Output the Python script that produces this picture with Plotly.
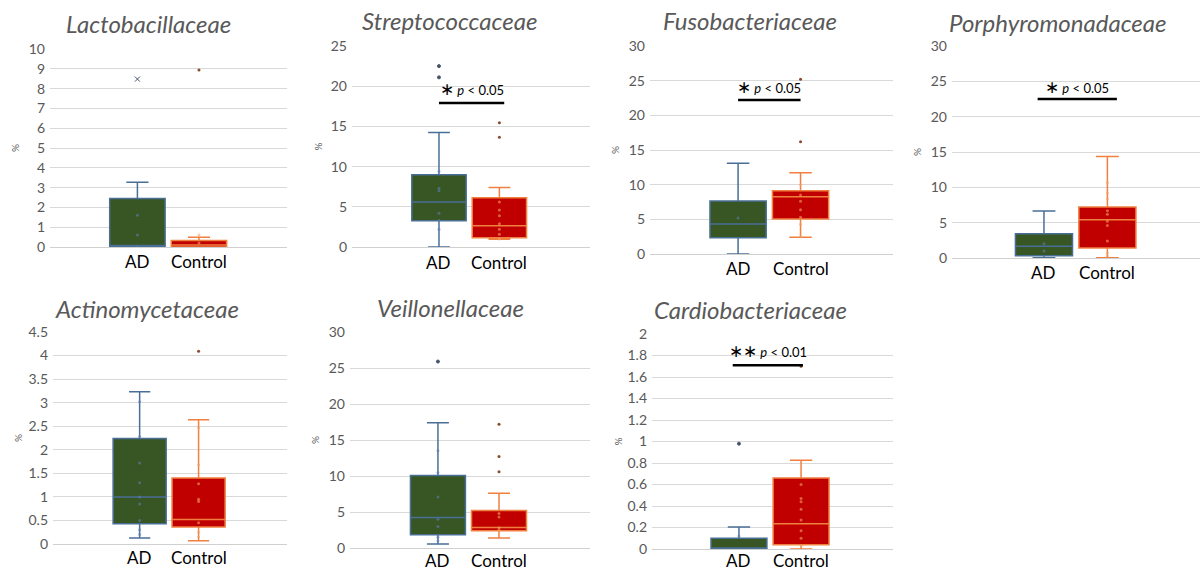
import plotly.graph_objects as go

# ---------------- data ----------------
families = ["Lactobacillaceae", "Streptococcaceae", "Fusobacteriaceae", "Porphyromonadaceae",
            "Actinomycetaceae", "Veillonellaceae", "Cardiobacteriaceae"]
groups = ["AD", "Control"]

ad_lo  = [0.0, 0.0, 0.0, 0.05, 0.13, 0.55, 0.0]
ad_q1  = [0.0, 3.27, 2.36, 0.33, 0.43, 1.85, 0.0]
ad_med = [0.08, 5.6, 4.33, 1.65, 1.0, 4.25, 0.01]
ad_q3  = [2.45, 9.0, 7.64, 3.44, 2.24, 10.06, 0.10]
ad_hi  = [3.27, 14.25, 13.1, 6.64, 3.23, 17.4, 0.205]

ct_lo  = [0.0, 0.95, 2.4, 0.05, 0.07, 1.38, 0.0]
ct_q1  = [0.0, 1.16, 5.05, 1.41, 0.36, 2.4, 0.04]
ct_med = [0.1, 2.65, 8.27, 5.42, 0.52, 2.85, 0.236]
ct_q3  = [0.33, 6.13, 9.13, 7.2, 1.40, 5.2, 0.66]
ct_hi  = [0.49, 7.4, 11.73, 14.37, 2.64, 7.6, 0.825]

ad_out = [[8.48], [22.5, 21.1], [], [], [], [25.9], [0.98]]
ct_out = [[8.94], [15.46, 13.64], [25.2, 16.2], [], [4.09], [17.2, 12.7, 10.6], [1.70]]

ad_in = [[1.6, 0.6, 0.0], [9.4, 7.3, 7.0, 4.2, 3.3, 2.2], [5.2], [2.0, 1.0],
         [3.02, 2.28, 1.72, 1.3, 1.0, 0.85, 0.5, 0.3, 0.2], [13.5, 10.5, 7.1, 4.0, 3.0, 1.5, 1.0], [0.12]]
ct_in = [[0.6, 0.2], [5.6, 4.6, 3.9, 2.9, 2.2, 1.6, 1.0], [10.0, 8.5, 7.6, 6.4, 5.3, 4.3, 2.5],
         [10.7, 9.2, 8.4, 6.7, 6.2, 5.2, 4.6, 2.4, 0.7, 0.3],
         [2.47, 1.68, 1.28, 0.95, 0.9, 0.45, 0.25, 0.15], [4.8, 4.3, 2.8, 2.5],
         [0.6, 0.47, 0.44, 0.37, 0.27, 0.17, 0.1, 0.03]]

y_max   = [10, 25, 30, 30, 4.5, 30, 2]
y_dtick = [1, 5, 5, 5, 0.5, 5, 0.2]

sig_label  = ["", "∗", "∗", "∗", "", "", "∗∗"]
sig_p      = ["", "< 0.05", "< 0.05", "< 0.05", "", "", "< 0.01"]
sig_line_y = [None, 17.9, 22.2, 22.5, None, None, 1.71]
sig_text_y = [None, 19.7, 24.2, 24.3, None, None, 1.85]
sig_x0     = [None, 0.0, 0.0, -0.1, None, None, -0.1]
sig_x1     = [None, 1.08, 1.0, 1.15, None, None, 1.03]

# ---------------- layout geometry (pixels) ----------------
W, H = 1202, 570
boxes_px = [(50, 287, 49, 247), (352, 590, 46, 247), (650, 893, 46, 254), (952, 1200, 46, 258),
            (53, 287, 332, 544), (350, 590, 332, 548), (652, 893, 334, 549)]
x_ranges = [(-1.42, 2.43), (-1.44, 2.50), (-1.41, 2.48), (-1.45, 2.46),
            (-1.47, 2.50), (-1.44, 2.49), (-1.40, 2.48)]
title_pos = [(148, 23), (449, 20), (750, 20), (1058, 22), (147, 308), (450, 307), (750, 309)]
label_gap = [14, 15, 14, 15, 13, 12, 11]

AD_FILL, AD_LINE = "#375623", "#4a6f96"
CT_FILL, CT_LINE = "#c00000", "#f08040"
GREY = "#595959"
FONT = "Lato, Open Sans, sans-serif"

fig = go.Figure()
layout = dict(width=W, height=H, margin=dict(l=0, r=0, t=0, b=0, autoexpand=False),
              paper_bgcolor="white", plot_bgcolor="white", showlegend=False,
              font=dict(family=FONT, color=GREY))
annotations = []
shapes = []

for i in range(7):
    n = "" if i == 0 else str(i + 1)
    xa, ya = "x" + n, "y" + n
    l, r, t, b = boxes_px[i]
    layout["xaxis" + n] = dict(domain=[l / W, r / W], anchor=ya, range=list(x_ranges[i]),
                               showticklabels=False, showgrid=False, zeroline=False,
                               showline=False, ticks="", fixedrange=True)
    layout["yaxis" + n] = dict(domain=[1 - b / H, 1 - t / H], anchor=xa, range=[0, y_max[i]],
                               dtick=y_dtick[i], tick0=0, showgrid=True, gridcolor="#d9d9d9",
                               gridwidth=1, zeroline=True, zerolinecolor="#d0d0d0", zerolinewidth=1,
                               showline=False, ticks="", tickfont=dict(size=14, color=GREY, family=FONT),
                               ticklabelstandoff=4, fixedrange=True)

    fig.add_trace(go.Box(x=[0], q1=[ad_q1[i]], median=[ad_med[i]], q3=[ad_q3[i]],
                         lowerfence=[ad_lo[i]], upperfence=[ad_hi[i]], width=0.9,
                         whiskerwidth=0.4, fillcolor=AD_FILL, line=dict(color=AD_LINE, width=1.5),
                         boxpoints=False, xaxis=xa, yaxis=ya, hoverinfo="skip"))
    fig.add_trace(go.Box(x=[1], q1=[ct_q1[i]], median=[ct_med[i]], q3=[ct_q3[i]],
                         lowerfence=[ct_lo[i]], upperfence=[ct_hi[i]], width=0.9,
                         whiskerwidth=0.4, fillcolor=CT_FILL, line=dict(color=CT_LINE, width=1.5),
                         boxpoints=False, xaxis=xa, yaxis=ya, hoverinfo="skip"))
    # inner points
    fig.add_trace(go.Scatter(x=[0] * len(ad_in[i]), y=ad_in[i], mode="markers",
                             marker=dict(size=3, color="#5b7fb0", opacity=0.6),
                             xaxis=xa, yaxis=ya, hoverinfo="skip"))
    fig.add_trace(go.Scatter(x=[1] * len(ct_in[i]), y=ct_in[i], mode="markers",
                             marker=dict(size=3, color="#f4a060", opacity=0.6),
                             xaxis=xa, yaxis=ya, hoverinfo="skip"))
    # outliers
    sym = "x-thin" if i == 0 else "circle"
    fig.add_trace(go.Scatter(x=[0] * len(ad_out[i]), y=ad_out[i], mode="markers",
                             marker=dict(size=5 if i == 0 else 3, color="#44546a", symbol=sym,
                                         line=dict(color="#44546a", width=1)),
                             xaxis=xa, yaxis=ya, hoverinfo="skip"))
    fig.add_trace(go.Scatter(x=[1] * len(ct_out[i]), y=ct_out[i], mode="markers",
                             marker=dict(size=3, color="#8b4a2b"),
                             xaxis=xa, yaxis=ya, hoverinfo="skip"))

    # category labels
    for k, g in enumerate(groups):
        annotations.append(dict(text=g, xref=xa, yref="paper", x=k, y=1 - (b + label_gap[i]) / H,
                                xanchor="center", yanchor="middle", showarrow=False,
                                font=dict(size=17, color="black", family=FONT)))
    # title
    tx, ty = title_pos[i]
    annotations.append(dict(text="<i>" + families[i] + "</i>", xref="paper", yref="paper",
                            x=tx / W, y=1 - ty / H, xanchor="center", yanchor="middle",
                            showarrow=False, font=dict(size=24, color=GREY, family=FONT)))
    # % axis label
    annotations.append(dict(text="%", xref="paper", yref="paper", x=(l - 35) / W,
                            y=1 - ((t + b) / 2) / H, xanchor="center", yanchor="middle",
                            textangle=-90, showarrow=False, font=dict(size=10, color=GREY)))
    # significance
    if sig_line_y[i] is not None:
        shapes.append(dict(type="line", xref=xa, yref=ya, x0=sig_x0[i], x1=sig_x1[i],
                           y0=sig_line_y[i], y1=sig_line_y[i], line=dict(color="black", width=2.5)))
        annotations.append(dict(text="<span style='font-size:17px'>" + sig_label[i] + "</span> <i>p</i> "
                                + sig_p[i], xref=xa, yref=ya, x=(sig_x0[i] + sig_x1[i]) / 2,
                                y=sig_text_y[i], xanchor="center", yanchor="middle", showarrow=False,
                                font=dict(size=13, color="black", family=FONT)))

layout["annotations"] = annotations
layout["shapes"] = shapes
fig.update_layout(**layout)
fig.write_html("out.html", config={"displayModeBar": False},
               post_script="document.body.style.margin='0';document.body.style.overflow='hidden';")
